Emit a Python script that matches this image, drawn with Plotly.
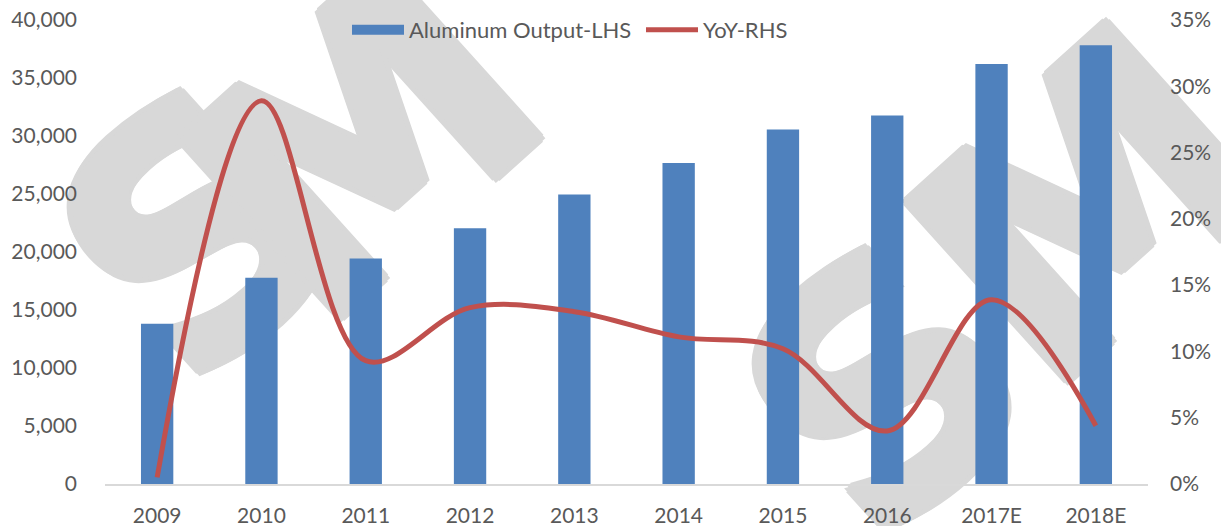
import plotly.graph_objects as go

categories = ["2009", "2010", "2011", "2012", "2013", "2014", "2015", "2016", "2017E", "2018E"]
output_values = [13810, 17770, 19450, 22050, 24950, 27670, 30560, 31770, 36200, 37820]
yoy_values = [0.005, 0.289, 0.093, 0.133, 0.130, 0.111, 0.102, 0.040, 0.139, 0.044]
left_ticks = [0, 5000, 10000, 15000, 20000, 25000, 30000, 35000, 40000]
right_ticks = [0, 0.05, 0.10, 0.15, 0.20, 0.25, 0.30, 0.35]

W, H = 1221, 526
ML, MR, MT, MB = 105, 73, 20, 42
PW, PH = W - ML - MR, H - MT - MB

BLUE = "#4F81BD"
RED = "#C0504D"
WM = "#D8D8D8"

def px(x):  # pixel -> paper x
    return (x - ML) / PW

def py(y):  # pixel -> paper y
    return (H - MB - y) / PH

tick_font = dict(family="Lato, Open Sans, sans-serif", size=21, color="#595959")
legend_font = dict(family="Lato, Open Sans, sans-serif", size=22, color="#595959")

fig = go.Figure()
fig.add_trace(go.Bar(
    x=categories, y=output_values, name="Aluminum Output-LHS",
    marker=dict(color=BLUE, line=dict(width=0)), width=0.31, yaxis="y",
    showlegend=False,
))
# legend entry for the bars (wide block like the original)
fig.add_trace(go.Scatter(
    x=[None], y=[None], name="Aluminum Output-LHS", mode="lines",
    line=dict(color=BLUE, width=14), yaxis="y", showlegend=True, legend="legend",
))
fig.add_trace(go.Scatter(
    x=categories, y=yoy_values, name="YoY-RHS", mode="lines",
    line=dict(color=RED, width=5, shape="spline", smoothing=1.0), yaxis="y2",
    legend="legend2",
))

# "SMM" watermarks (behind the data), drawn letter by letter
shadow = ", ".join(f"{a}px {b}px 0 {WM}" for a, b in
                   [(5, 0), (-5, 0), (0, 5), (0, -5), (4, 4), (-4, -4), (4, -4), (-4, 4)])
wm_letters = [("S", 185, 215), ("M", 348, 125), ("S", 870, 372), ("M", 1075, 188)]
shapes = []
for ch, cx, cy in wm_letters:
    shapes.append(dict(
        type="rect", xref="paper", yref="paper",
        x0=px(cx - 20), x1=px(cx + 20), y0=py(cy + 20), y1=py(cy - 20),
        line=dict(width=0), fillcolor="rgba(0,0,0,0)", layer="below",
        label=dict(text=ch, textangle=-42, textposition="middle center",
                   font=dict(family="DejaVu Sans, sans-serif", size=330,
                             color=WM, weight="bold", shadow=shadow)),
    ))

fig.update_layout(
    width=W, height=H,
    margin=dict(l=ML, r=MR, t=MT, b=MB, pad=0, autoexpand=False),
    paper_bgcolor="white", plot_bgcolor="rgba(0,0,0,0)",
    showlegend=True,
    legend=dict(orientation="h", x=px(347), xanchor="left", y=py(30), yanchor="middle",
                font=legend_font, bgcolor="rgba(0,0,0,0)", itemwidth=52),
    legend2=dict(orientation="h", x=px(641), xanchor="left", y=py(30), yanchor="middle",
                 font=legend_font, bgcolor="rgba(0,0,0,0)", itemwidth=52),
    shapes=shapes,
    xaxis=dict(showgrid=False, showline=True, linecolor="#D9D9D9", linewidth=1.5,
               tickfont=tick_font, ticks="", ticklabelstandoff=12, zeroline=False,
               automargin=False, ticklabeloverflow="allow"),
    yaxis=dict(range=[0, 40000], tickvals=left_ticks, tickformat=",", showgrid=False,
               zeroline=False, showline=False, tickfont=tick_font, ticks="",
               ticklabelstandoff=27, automargin=False, ticklabeloverflow="allow"),
    yaxis2=dict(range=[0, 0.35], tickvals=right_ticks, tickformat=".0%", overlaying="y",
                side="right", showgrid=False, zeroline=False, showline=False,
                tickfont=tick_font, ticks="", ticklabelstandoff=21, automargin=False,
                ticklabeloverflow="allow"),
)

fig.write_html("out.html", config={"displayModeBar": False},
               post_script="document.body.style.margin='0px';")
